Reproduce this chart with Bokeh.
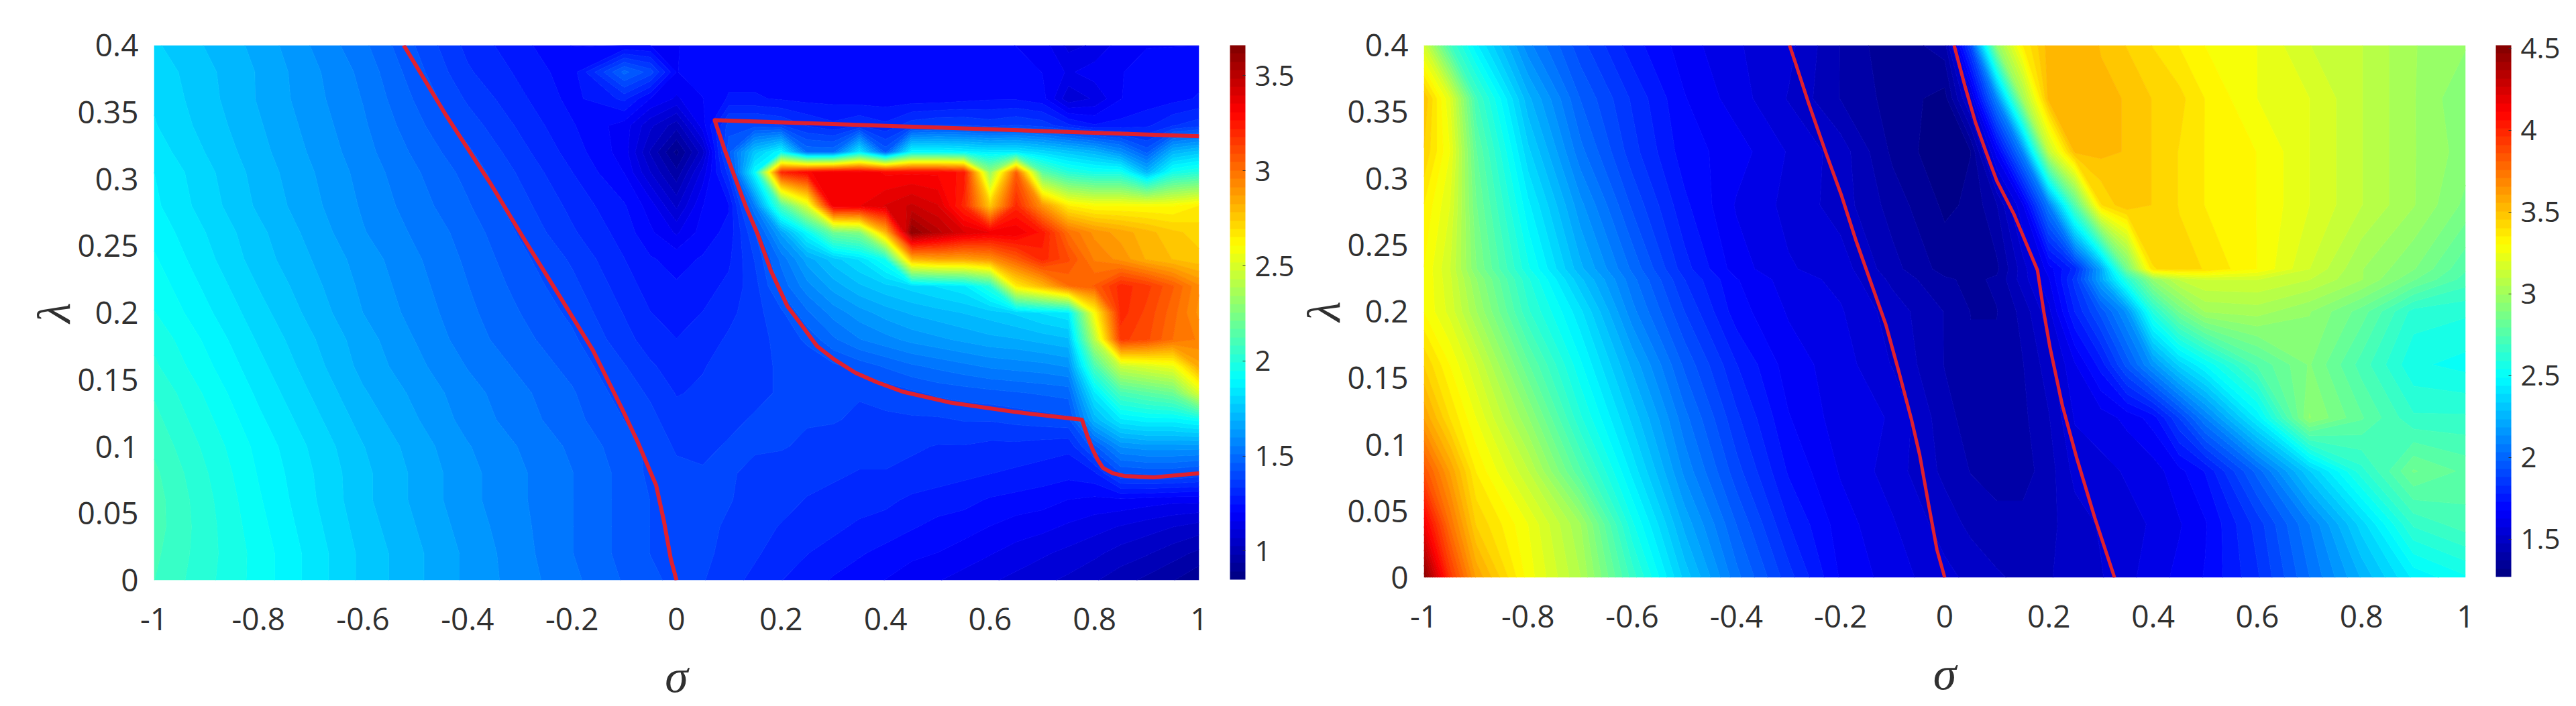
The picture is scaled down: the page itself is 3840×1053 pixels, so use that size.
import numpy as np
from bokeh.plotting import figure
from bokeh.layouts import row
from bokeh.models import LinearColorMapper, ColorBar, FixedTicker
from bokeh.embed import file_html
from bokeh.resources import INLINE

# ---- left panel -------------------------------------------------------
sigma_a = [-1, -.8, -.6, -.4, -.2, -.1, -.05, 0, .05, .1, .15, .2, .25, .3, .35, .4, .45, .5, .55, .6, .65, .7, .75, .8, .85, .9, .95, 1]
lambda_a = [0, .02, .04, .06, .08, .1, .12, .14, .16, .18, .2, .22, .24, .26, .28, .305, .32, .34, .36, .38, .4]
a00 = [2.08,1.93,1.76,1.63,1.52,1.46,1.43, 1.41,1.38,1.35,1.32,1.29,1.27,1.24,1.22,1.2,1.18,1.16,1.14,1.12,1.1,1.08,1.06,1.03,1.0,.97,.94,.9]
a02 = [2.09,1.93,1.76,1.63,1.51,1.45,1.42, 1.42,1.39,1.36,1.34,1.31,1.29,1.27,1.25,1.23,1.21,1.2,1.18,1.16,1.14,1.12,1.1,1.08,1.05,1.03,1.0,.97]
a04 = [2.10,1.92,1.75,1.62,1.51,1.45,1.42, 1.41,1.39,1.37,1.35,1.33,1.31,1.3,1.28,1.27,1.25,1.23,1.22,1.2,1.18,1.17,1.15,1.13,1.11,1.09,1.07,1.05]
a06 = [2.10,1.91,1.74,1.61,1.51,1.45,1.42, 1.40,1.39,1.38,1.36,1.35,1.33,1.32,1.31,1.3,1.28,1.27,1.26,1.24,1.23,1.22,1.2,1.19,1.19,1.18,1.17,1.17]
a08 = [2.09,1.90,1.74,1.61,1.51,1.45,1.41, 1.39,1.38,1.38,1.37,1.36,1.35,1.34,1.33,1.33,1.32,1.31,1.3,1.29,1.28,1.27,1.26,1.28,1.42,1.43,1.43,1.41]
a10 = [2.07,1.89,1.73,1.60,1.50,1.44,1.41, 1.37,1.37,1.38,1.38,1.38,1.37,1.36,1.35,1.35,1.34,1.33,1.33,1.32,1.32,1.31,1.3,1.45,1.6,1.62,1.62,1.62]
a12 = [2.05,1.87,1.71,1.58,1.48,1.42,1.39, 1.35,1.36,1.37,1.38,1.38,1.38,1.38,1.37,1.37,1.37,1.37,1.38,1.38,1.39,1.4,1.41,1.7,1.85,1.88,1.88,1.92]
a14 = [2.03,1.85,1.69,1.57,1.47,1.40,1.37, 1.33,1.34,1.36,1.37,1.38,1.38,1.38,1.38,1.39,1.41,1.43,1.44,1.45,1.46,1.47,1.48,1.85,2.1,2.15,2.2,2.5]
a16 = [2.0,1.83,1.67,1.55,1.45,1.38,1.34, 1.31,1.33,1.35,1.37,1.38,1.39,1.41,1.44,1.47,1.5,1.52,1.54,1.56,1.57,1.58,1.6,2.1,2.45,2.5,2.55,2.85]
a18 = [1.98,1.81,1.66,1.53,1.43,1.35,1.31, 1.29,1.31,1.34,1.36,1.39,1.43,1.5,1.55,1.58,1.61,1.63,1.65,1.67,1.68,1.7,1.72,2.4,3.15,3.1,3.0,2.95]
a20 = [1.95,1.79,1.64,1.52,1.41,1.33,1.29, 1.27,1.29,1.32,1.36,1.41,1.5,1.57,1.62,1.66,1.69,1.71,1.73,1.75,1.78,1.82,1.85,2.6,3.2,3.12,3.02,2.9]
a22 = [1.93,1.77,1.63,1.51,1.39,1.31,1.27, 1.25,1.27,1.3,1.36,1.48,1.58,1.66,1.72,1.76,1.79,1.82,1.85,2.0,2.65,2.8,3.0,3.05,3.2,3.15,3.05,2.92]
a24 = [1.91,1.75,1.62,1.50,1.37,1.29,1.25, 1.23,1.25,1.28,1.38,1.52,1.66,1.75,1.82,1.95,2.8,2.85,2.85,2.9,3.05,3.2,3.1,2.95,2.9,2.82,2.78,2.75]
a26 = [1.89,1.74,1.60,1.49,1.34,1.27,1.21, 1.15,1.22,1.26,1.42,1.65,1.9,2.2,2.25,2.8,3.62,3.5,3.4,3.35,3.35,3.25,3.0,2.9,2.85,2.8,2.75,2.72]
a28 = [1.87,1.72,1.59,1.47,1.32,1.25,1.18, 1.06,1.2,1.24,1.55,2.1,2.5,3.35,3.35,3.4,3.45,3.4,3.2,2.75,3.2,2.9,2.65,2.6,2.6,2.6,2.6,2.65]
a30 = [1.86,1.71,1.58,1.45,1.29,1.2,1.07, .95,1.13,1.35,1.9,3.2,3.3,3.35,3.35,3.3,3.3,3.3,3.25,2.3,3.05,2.15,2.0,1.95,1.95,1.7,1.95,2.0]
a32 = [1.84,1.70,1.57,1.43,1.27,1.18,1.02, .88,1.05,1.45,1.75,1.9,1.5,1.5,1.85,1.45,1.9,1.9,1.88,1.85,1.85,1.8,1.75,1.7,1.6,1.45,1.7,1.75]
a34 = [1.82,1.69,1.56,1.40,1.25,1.18,1.08, 1.0,1.18,1.4,1.4,1.38,1.33,1.3,1.33,1.3,1.36,1.38,1.38,1.36,1.38,1.36,1.3,1.25,1.26,1.28,1.33,1.36]
a36 = [1.81,1.68,1.55,1.37,1.23,1.3,1.2, 1.15,1.2,1.25,1.25,1.24,1.23,1.23,1.22,1.22,1.22,1.22,1.23,1.24,1.24,1.22,1.08,1.12,1.2,1.22,1.23,1.25]
a38 = [1.80,1.68,1.54,1.34,1.22,1.48,1.4, 1.2,1.22,1.23,1.23,1.23,1.22,1.22,1.22,1.22,1.23,1.23,1.24,1.24,1.23,1.2,1.15,1.18,1.2,1.21,1.22,1.23]
a40 = [1.78,1.67,1.52,1.32,1.2,1.2,1.2, 1.2,1.21,1.22,1.22,1.22,1.22,1.22,1.22,1.22,1.22,1.22,1.22,1.22,1.2,1.18,1.1,1.12,1.18,1.2,1.2,1.2]
rows_a = [a00,a02,a04,a06,a08,a10,a12,a14,a16,a18,a20,a22,a24,a26,a28,a30,a32,a34,a36,a38,a40]

# red curves, left panel
curve_a1_x = [-.522, -.44, -.355, -.29, -.223, -.16, -.104, -.075, -.039, -.024, -.011, 0]
curve_a1_y = [.4, .347, .296, .254, .212, .172, .128, .104, .071, .044, .016, 0]
curve_a2_x = [1, .073, .092, .11, .132, .155, .18, .212, .237, .269, .302, .343, .384, .433, .522, .645, .776, .786, .796, .806, .816, .835, .857, .914, 1]
curve_a2_y = [.332, .344, .322, .303, .28, .259, .232, .205, .192, .175, .165, .155, .148, .141, .133, .126, .12, .108, .098, .09, .084, .08, .078, .077, .08]

# ---- right panel ------------------------------------------------------
sigma_b = [-1,-.95,-.9,-.8,-.7,-.6,-.5,-.4,-.3,-.2,-.1,0,.05,.1,.15,.2,.25,.3,.35,.4,.45,.5,.6,.7,.8,.9,1]
lambda_b = [0,.04,.08,.12,.16,.2,.224,.232,.28,.32,.36,.4]
b00 = [4.5,3.95,3.6,3.28,3.05,2.67,2.32,2.05,1.85,1.67,1.6,1.54,1.51,1.48,1.46,1.47,1.49,1.52,1.56,1.6,1.64,1.68,1.82,2.03,2.24,2.45,2.53]
b04 = [4.15,3.75,3.45,3.25,3.0,2.55,2.22,1.98,1.78,1.65,1.58,1.5,1.46,1.44,1.44,1.46,1.5,1.53,1.56,1.58,1.62,1.67,1.85,2.08,2.36,2.65,2.72]
b08 = [3.85,3.6,3.35,3.1,2.75,2.42,2.12,1.9,1.72,1.62,1.55,1.46,1.42,1.4,1.4,1.45,1.54,1.56,1.58,1.6,1.66,1.73,2.0,2.33,2.62,2.85,2.78]
b12 = [3.6,3.4,3.25,2.95,2.6,2.32,2.05,1.84,1.68,1.6,1.57,1.44,1.4,1.39,1.41,1.47,1.58,1.6,1.64,1.7,1.88,2.08,2.45,2.95,2.8,2.65,2.65]
b16 = [3.45,3.3,3.15,2.8,2.5,2.22,1.97,1.78,1.65,1.6,1.52,1.42,1.38,1.38,1.42,1.5,1.62,1.75,1.95,2.15,2.35,2.49,2.75,2.9,2.72,2.55,2.52]
b20 = [3.3,3.18,3.0,2.65,2.4,2.1,1.88,1.7,1.62,1.58,1.5,1.42,1.37,1.37,1.44,1.56,1.78,1.95,2.15,2.6,2.85,3.0,3.02,2.95,2.82,2.62,2.6]
b22 = [3.3,3.16,2.95,2.6,2.3,2.05,1.83,1.68,1.6,1.56,1.46,1.38,1.36,1.38,1.5,1.62,1.85,2.2,2.6,2.95,3.1,3.15,3.15,3.1,3.0,2.85,2.72]
b24 = [3.3,3.15,2.9,2.55,2.25,2.02,1.8,1.65,1.58,1.55,1.44,1.35,1.34,1.36,1.5,1.65,1.8,2.2,2.85,3.4,3.42,3.4,3.3,3.15,3.0,2.9,2.75]
b28 = [3.35,3.2,2.85,2.45,2.15,1.92,1.74,1.62,1.56,1.5,1.4,1.31,1.33,1.42,1.62,2.08,2.75,3.4,3.5,3.45,3.4,3.35,3.3,3.2,3.1,3.0,2.88]
b32 = [3.45,3.25,2.8,2.35,2.05,1.85,1.7,1.65,1.57,1.5,1.36,1.28,1.32,1.65,2.1,3.1,3.52,3.52,3.5,3.45,3.4,3.35,3.3,3.2,3.1,3.0,2.92]
b36 = [3.5,3.2,2.7,2.25,1.98,1.82,1.68,1.6,1.52,1.42,1.35,1.3,1.55,2.1,3.0,3.53,3.55,3.52,3.5,3.45,3.42,3.35,3.25,3.2,3.1,3.0,2.9]
b40 = [3.15,2.7,2.45,2.1,1.9,1.75,1.65,1.58,1.54,1.42,1.33,1.4,1.9,2.95,3.35,3.53,3.55,3.5,3.45,3.4,3.35,3.3,3.25,3.15,3.1,3.0,2.95]
rows_b = [b00,b04,b08,b12,b16,b20,b22,b24,b28,b32,b36,b40]

curve_b1_x = [-.298, -.286, -.261, -.228, -.199, -.171, -.142, -.113, -.089, -.064, -.048, -.031, -.015, 0]
curve_b1_y = [.4, .386, .356, .319, .288, .254, .222, .19, .156, .119, .092, .055, .021, 0]
curve_b2_x = [.018, .039, .059, .08, .1, .133, .178, .19, .202, .226, .254, .288, .326]
curve_b2_y = [.4, .369, .342, .319, .298, .273, .231, .2, .173, .129, .089, .045, 0]

# ---- axes / colourbars ------------------------------------------------
x_ticks = [-1, -.8, -.6, -.4, -.2, 0, .2, .4, .6, .8, 1]
x_labels = ["-1", "-0.8", "-0.6", "-0.4", "-0.2", "0", "0.2", "0.4", "0.6", "0.8", "1"]
y_ticks = [0, .05, .1, .15, .2, .25, .3, .35, .4]
y_labels = ["0", "0.05", "0.1", "0.15", "0.2", "0.25", "0.3", "0.35", "0.4"]
cb_a_ticks = [1, 1.5, 2, 2.5, 3, 3.5]
cb_a_labels = ["1", "1.5", "2", "2.5", "3", "3.5"]
cb_b_ticks = [1.5, 2, 2.5, 3, 3.5, 4, 4.5]
cb_b_labels = ["1.5", "2", "2.5", "3", "3.5", "4", "4.5"]
range_a = (0.85, 3.66)
range_b = (1.27, 4.52)

FONT = "Open Sans"
TXT = "#303030"
RED = "#e0202e"
N = 64


def jet(n):
    t = (np.arange(n) + 0.5) / n
    c = lambda v: np.clip(v, 0, 1)
    r = c(np.minimum(4 * t - 1.5, -4 * t + 4.5))
    g = c(np.minimum(4 * t - .5, -4 * t + 3.5))
    b = c(np.minimum(4 * t + .5, -4 * t + 2.5))
    return ["#%02x%02x%02x" % (int(a * 255), int(d * 255), int(e * 255)) for a, d, e in zip(r, g, b)]


def panel(sx, sy, rows, rng, cb_ticks, cb_labels, curves, fw, fh, left, right, top, bottom, lw, cb_x, cb_h, cb_y):
    p = figure(frame_width=fw, frame_height=fh, x_range=(-1, 1), y_range=(0, .4),
               toolbar_location=None, output_backend="svg",
               min_border_left=left, min_border_right=right, min_border_top=top, min_border_bottom=bottom)
    p.outline_line_color = None
    p.grid.visible = False
    pal = jet(N)
    levels = np.linspace(rng[0], rng[1], N + 1)
    line_pal = pal + [pal[-1]]
    p.contour(np.array(sx, float), np.array(sy, float), np.array(rows, float), levels,
              fill_color=pal, line_color=line_pal, line_width=1)
    for cx, cy in curves:
        p.line(cx, cy, line_color=RED, line_width=lw, line_join="round")
    p.xaxis.ticker = FixedTicker(ticks=x_ticks)
    p.yaxis.ticker = FixedTicker(ticks=y_ticks)
    p.xaxis.major_label_overrides = dict(zip(x_ticks, x_labels))
    p.yaxis.major_label_overrides = dict(zip(y_ticks, y_labels))
    for ax in (p.xaxis[0], p.yaxis[0]):
        ax.axis_line_color = None
        ax.major_tick_line_color = None
        ax.minor_tick_line_color = None
        ax.major_label_text_font = FONT
        ax.major_label_text_font_size = "46px"
        ax.major_label_text_color = TXT
        ax.axis_label_text_font = "Liberation Serif"
        ax.axis_label_text_font_style = "italic"
        ax.axis_label_text_font_size = "70px"
        ax.axis_label_text_color = TXT
    p.xaxis.axis_label = "σ"
    p.yaxis.axis_label = "λ"
    p.xaxis.axis_label_text_line_height = 0.6
    p.xaxis.major_label_standoff = 35
    p.yaxis.major_label_standoff = 17
    p.xaxis.axis_label_standoff = 27
    p.yaxis.axis_label_standoff = -6
    mapper = LinearColorMapper(palette=pal, low=rng[0], high=rng[1])
    cb = ColorBar(color_mapper=mapper, width=23, height=cb_h, location=(cb_x, cb_y), margin=0, padding=0,
                  ticker=FixedTicker(ticks=cb_ticks),
                  major_label_overrides=dict(zip(cb_ticks, cb_labels)),
                  major_label_text_font=FONT, major_label_text_font_size="42px",
                  major_label_text_color=TXT, major_tick_line_color="#333333",
                  major_tick_in=4, major_tick_out=0, minor_tick_line_color=None,
                  label_standoff=14, bar_line_color=None, background_fill_color=None, border_line_color=None)
    p.add_layout(cb, "center")
    return p


fig_a = panel(sigma_a, lambda_a, rows_a, range_a, cb_a_ticks, cb_a_labels,
              [(curve_a1_x, curve_a1_y), (curve_a2_x, curve_a2_y)],
              1558, 798, 229, 143, 62, 188, 6, 1604, 797, 1)
fig_b = panel(sigma_b, lambda_b, rows_b, range_b, cb_b_ticks, cb_b_labels,
              [(curve_b1_x, curve_b1_y), (curve_b2_x, curve_b2_y)],
              1553, 794, 192, 160, 67, 188, 5, 1598, 793, 1)
page = row(fig_a, fig_b, spacing=0)
open("out.html", "w").write(file_html(page, INLINE))
